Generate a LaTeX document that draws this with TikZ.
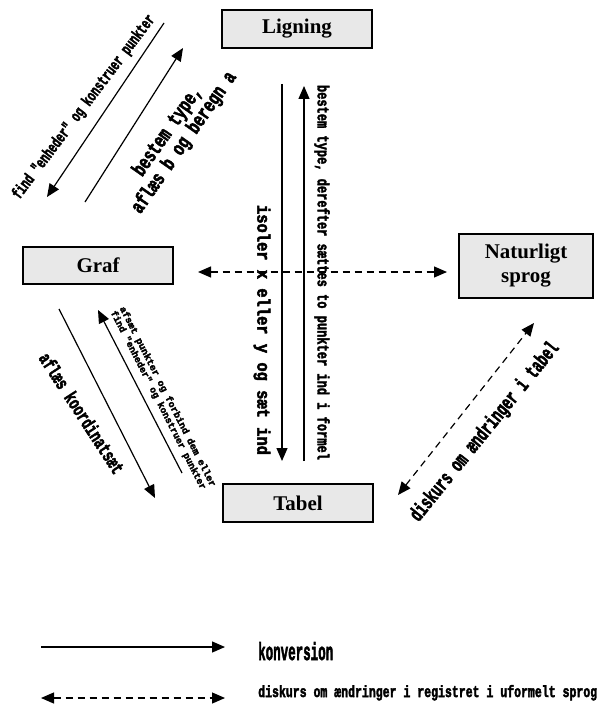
\documentclass[tikz,border=0pt]{standalone}
\usepackage{graphicx}
\usepackage{fontspec}
\setmainfont{Liberation Serif}
\newfontfamily\condfont{Liberation Mono}[BoldFeatures={FakeBold=3}]
\usetikzlibrary{arrows.meta}

% condensed heavy label: \ctext{width}{height}{text}, sizes in bp
\newcommand\ctext[3]{\resizebox{#1bp}{#2bp}{\condfont\bfseries #3}}

\tikzset{
  regbox/.style={draw=black, line width=1.3bp, fill=black!9, inner sep=0pt,
    font=\fontsize{21}{24}\selectfont\bfseries, align=center},
  conv/.style={line width=1.2bp, -{Triangle[length=13bp,width=11bp]}},
  disc/.style={line width=1.2bp, dash pattern=on 7bp off 5bp,
    {Triangle[length=13bp,width=11bp]}-{Triangle[length=13bp,width=11bp]}},
  lbl/.style={inner sep=0pt}
}

\begin{document}
\begin{tikzpicture}[x=1bp,y=-1bp]
\useasboundingbox (0,0) rectangle (600,710);

% registers
\node[regbox, minimum width=150bp, minimum height=38bp] (lig) at (297,29) {Ligning};
\node[regbox, minimum width=150bp, minimum height=37bp] (graf) at (98,265.5) {Graf};
\node[regbox, minimum width=150bp, minimum height=38bp] (tab) at (298,503) {Tabel};
\node[regbox, minimum width=134bp, minimum height=64bp] (nat) at (526,266) {Naturligt\\sprog};

% connector end points
\coordinate (ligA) at (164,23);  \coordinate (grafA) at (47,197);
\coordinate (grafB) at (85,202); \coordinate (ligB) at (183,48);
\coordinate (ligC) at (282,84);  \coordinate (tabC) at (282,461);
\coordinate (tabD) at (304,461); \coordinate (ligD) at (304,86);
\coordinate (grafE) at (198,272); \coordinate (natE) at (447,272);
\coordinate (grafF) at (59,309); \coordinate (tabF) at (155,498);
\coordinate (tabG) at (182,473); \coordinate (grafG) at (98,310);
\coordinate (tabH) at (398,495); \coordinate (natH) at (534,323);

% conversions
\draw[conv] (ligA) -- (grafA);
\draw[conv] (grafB) -- (ligB);
\draw[conv] (ligC) -- (tabC);
\draw[conv] (tabD) -- (ligD);
\draw[conv] (grafF) -- (tabF);
\draw[conv] (tabG) -- (grafG);

% discourse in natural language
\draw[disc] (grafE) -- (natE);
\draw[disc] (tabH) -- (natH);

% labels
\node[lbl, rotate=53] (l1) at (84,107) {\ctext{226}{12}{find "enheder" og konstruer punkter}};
\node[lbl, rotate=55, align=center, font=\fontsize{16}{20}\selectfont] (l2) at (176,137)
  {\ctext{105}{15}{bestem type,}\\\ctext{168}{15}{aflæs b og beregn a}};
\node[lbl, rotate=-90] (l3) at (262,330) {\ctext{250}{13}{isoler x eller y og sæt ind}};
\node[lbl, rotate=-90] (l4) at (322,272.5) {\ctext{375}{12}{bestem type, derefter sættes to punkter ind i formel}};
\node[lbl, rotate=-57] (l5) at (82,413) {\ctext{140}{14}{aflæs koordinatsæt}};
\node[lbl, rotate=-63, align=left, font=\fontsize{7}{10}\selectfont] (l6) at (163,399)
  {\ctext{201}{7}{afsæt punkter og forbind dem eller}\\\ctext{199}{7}{find "enheder" og konstruer punkter}};
\node[lbl, rotate=51] (l7) at (485,432) {\ctext{224}{15}{diskurs om ændringer i tabel}};

% legend
\coordinate (k1) at (41,647); \coordinate (k2) at (225,647);
\coordinate (d1) at (41,698); \coordinate (d2) at (225,698);
\draw[conv] (k1) -- (k2);
\draw[disc] (d1) -- (d2);
\node[lbl, anchor=base west] (kt) at (258,660) {\ctext{75}{18}{konversion}};
\node[lbl, anchor=base west] (dt) at (258,697) {\ctext{339}{12}{diskurs om ændringer i registret i uformelt sprog}};
\end{tikzpicture}
\end{document}
